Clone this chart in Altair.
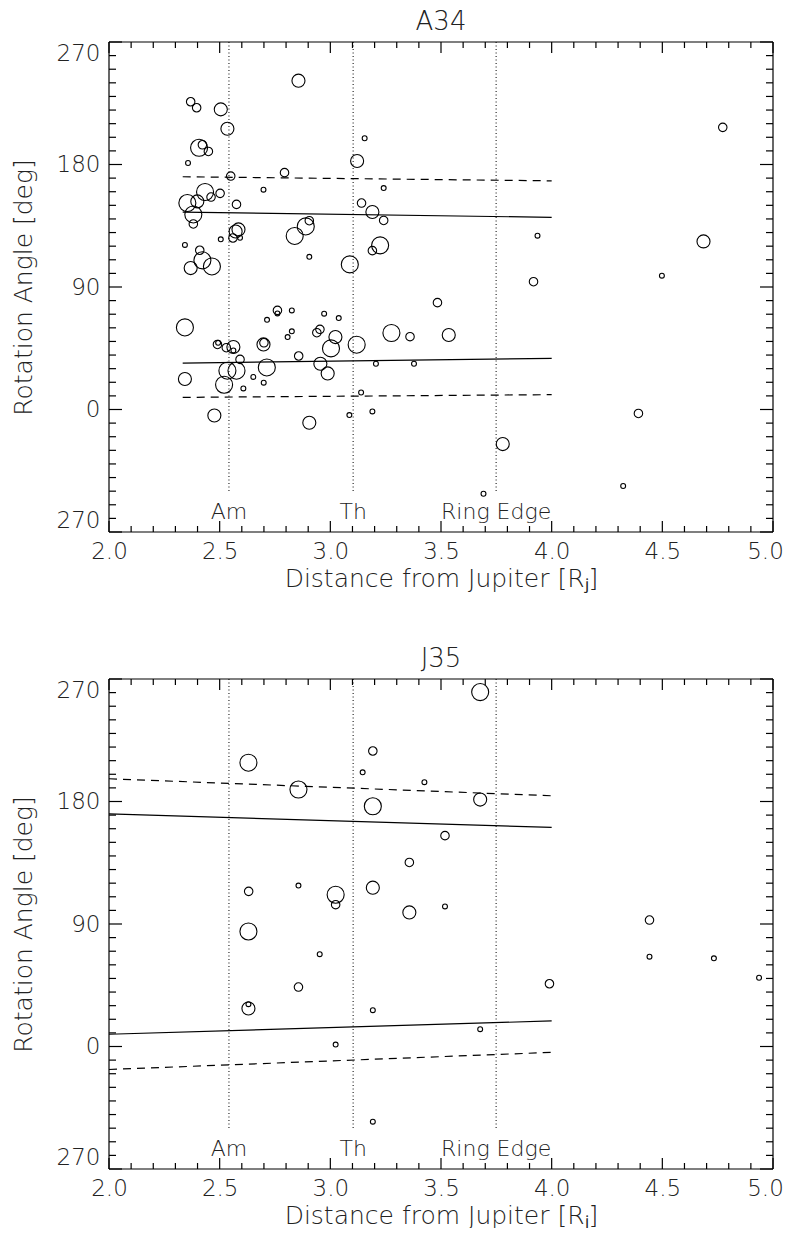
import altair as alt
import pandas as pd

FONT = "DejaVu Sans"

# ---------------- A34 data ----------------
a34_x = [2.856, 2.369, 2.396, 2.505, 2.535, 2.407, 2.422, 2.449, 2.357, 2.550,
         2.793, 2.698, 2.434, 2.461, 2.502, 2.354, 2.399, 2.576, 2.381, 2.381,
         2.585, 2.572, 2.560, 2.592, 2.505, 2.839, 2.889, 2.905, 2.905, 2.343,
         2.410, 2.422, 2.369, 2.465, 3.088, 3.155, 3.121, 3.241, 3.141, 3.190,
         3.241, 3.225, 3.190, 4.773, 4.686, 4.498, 3.918, 3.936,
         2.343, 2.343, 2.490, 2.493, 2.530, 2.562, 2.562, 2.592, 2.535, 2.576,
         2.520, 2.607, 2.652, 2.699, 2.476, 2.714, 2.761, 2.761, 2.826, 2.826,
         2.807, 2.698, 2.700, 2.713, 2.857, 2.972, 3.038, 2.939, 2.953, 3.023,
         3.003, 2.955, 2.988, 3.119, 3.276, 3.206, 3.139, 3.086, 3.190, 2.905,
         3.484, 3.360, 3.535, 3.378, 4.392, 3.779, 3.692, 4.323]
a34_y = [241.6, 226.1, 221.7, 220.5, 206.3, 192.3, 194.5, 189.6, 181.1, 171.5,
         174.0, 161.5, 159.8, 156.1, 158.8, 151.7, 152.9, 150.7, 143.3, 136.3,
         132.3, 130.8, 126.0, 126.2, 125.0, 127.5, 134.5, 138.7, 112.2, 120.9,
         117.0, 109.6, 103.9, 105.1, 106.6, 199.3, 182.6, 162.7, 151.7, 145.1,
         138.9, 120.6, 116.7, 207.3, 123.5, 98.3, 93.9, 127.7,
         60.3, 22.4, 47.8, 49.0, 45.4, 45.9, 43.4, 36.8, 28.5, 28.5,
         18.2, 15.5, 23.9, 19.7, -4.4, 65.9, 72.8, 70.6, 72.8, 57.4,
         53.2, 47.8, 49.0, 30.9, 39.3, 70.4, 67.2, 56.4, 58.9, 53.2,
         44.9, 33.6, 26.5, 47.6, 56.2, 33.6, 12.5, -4.1, -1.4, -9.7,
         78.5, 53.5, 54.7, 33.6, -2.9, -25.4, -61.9, -56.2]
a34_w = [3, 2, 2, 3, 3, 4, 2, 2, 1, 2,
         2, 1, 4, 2, 2, 4, 3, 2, 4, 2,
         3, 3, 2, 1, 1, 4, 4, 2, 1, 1,
         2, 4, 3, 4, 4, 1, 3, 1, 2, 3,
         2, 4, 2, 2, 3, 1, 2, 1,
         4, 3, 2, 1, 2, 3, 1, 2, 4, 4,
         4, 1, 1, 1, 3, 1, 2, 1, 1, 1,
         1, 3, 2, 4, 2, 1, 1, 2, 2, 3,
         4, 3, 3, 4, 4, 1, 1, 1, 1, 3,
         2, 2, 3, 1, 2, 3, 1, 1]

# fitted trends: (x start, x end) and (y start, y end)
a34_fit_x = [2.333, 4.0]
a34_solid_hi = [145.0, 141.2]
a34_dash_hi = [171.0, 168.0]
a34_solid_lo = [34.1, 37.6]
a34_dash_lo = [8.9, 10.9]

# ---------------- J35 data ----------------
j35_x = [2.630, 2.856, 3.192, 3.146, 3.425, 3.192, 3.518, 3.357, 2.631, 2.856,
         3.024, 3.024, 3.192, 3.357, 3.518, 2.630, 2.952, 2.856, 2.630, 2.630,
         3.192, 3.024, 3.192, 3.677, 3.677, 4.442, 4.442, 4.733, 4.937, 3.990,
         3.677]
j35_y = [208.5, 188.8, 217.1, 201.4, 194.2, 176.5, 154.9, 135.2, 114.0, 118.2,
         111.5, 104.2, 116.7, 98.5, 102.9, 84.5, 67.8, 43.7, 27.9, 31.1,
         26.7, 1.4, -55.2, 260.4, 181.4, 92.9, 66.0, 64.8, 50.5, 46.1,
         12.7]
j35_w = [4, 4, 2, 1, 1, 4, 2, 2, 2, 1,
         4, 2, 3, 3, 1, 4, 1, 2, 3, 1,
         1, 1, 1, 4, 3, 2, 1, 1, 1, 2,
         1]

j35_fit_x = [2.0, 4.0]
j35_solid_hi = [170.9, 161.0]
j35_dash_hi = [196.7, 184.2]
j35_solid_lo = [9.0, 18.8]
j35_dash_lo = [-16.9, -4.3]

# ---------------- reference boundaries ----------------
bound_names = ["Am", "Th", "Ring Edge"]
bound_x = [2.542, 3.103, 3.749]
bound_top = 270
bound_bottom = -61
bound_label_y = -75

# ---------------- axis ticks ----------------
X_MIN, X_MAX = 2.0, 5.0
Y_MIN, Y_MAX = -90, 270
x_major = [2.0, 2.5, 3.0, 3.5, 4.0, 4.5, 5.0]
x_minor = [round(2.0 + 0.1 * i, 1) for i in range(31)]
y_major = [-90, 0, 90, 180, 270]
y_minor = [-90 + 10 * i for i in range(37)]

W, H = 664, 490

xscale = alt.Scale(domain=[X_MIN, X_MAX], nice=False, zero=False)
yscale = alt.Scale(domain=[Y_MIN, Y_MAX], nice=False, zero=False)

common_axis = dict(ticks=False, domain=False, grid=False, labelFont=FONT, titleFont=FONT,
                   labelFontSize=23, titleFontSize=25, labelColor="#222",
                   titleColor="#222", titleFontWeight=300, labelFontWeight=300,
                   labelOverlap=False)
x_axis = alt.Axis(values=x_major, format=".1f", labelPadding=8,
                  title="Distance from Jupiter [Rⱼ]", titlePadding=3,
                  labelFlush=False,
                  labelOffset=alt.ExprRef(expr="datum.value == 5 ? -8 : 0"),
                  **common_axis)
y_axis = alt.Axis(values=y_major,
                  labelExpr="datum.value == -90 ? '270' : datum.label",
                  labelFlush=True, labelPadding=9, title="Rotation Angle [deg]",
                  titlePadding=20, **common_axis)


def X(field="x"):
    return alt.X(f"{field}:Q", scale=xscale, axis=x_axis)


def Y(field="y"):
    return alt.Y(f"{field}:Q", scale=yscale, axis=y_axis)


def panel(name, px, py, pw, fx, s_hi, d_hi, s_lo, d_lo):
    pts = pd.DataFrame({"x": px, "y": py, "w": pw})
    points = alt.Chart(pts).mark_point(shape="circle", filled=False, color="black",
                                       strokeWidth=1.1, opacity=1).encode(
        x=X(), y=Y(),
        size=alt.Size("w:N", scale=alt.Scale(type="ordinal", domain=[1, 2, 3, 4],
                                             range=[24, 72, 170, 290]),
                      legend=None))

    solid = pd.DataFrame({"x": fx + fx, "y": s_hi + s_lo, "g": ["hi", "hi", "lo", "lo"]})
    dashed = pd.DataFrame({"x": fx + fx, "y": d_hi + d_lo, "g": ["hi", "hi", "lo", "lo"]})
    solid_l = alt.Chart(solid).mark_line(color="black", strokeWidth=1.2).encode(
        x=X(), y=Y(), detail="g:N")
    dashed_l = alt.Chart(dashed).mark_line(color="black", strokeWidth=1.2,
                                           strokeDash=[8, 6]).encode(
        x=X(), y=Y(), detail="g:N")

    bdf = pd.DataFrame({"x": bound_x, "name": bound_names,
                        "top": [bound_top] * 3, "bot": [bound_bottom] * 3,
                        "ly": [bound_label_y] * 3})
    brules = alt.Chart(bdf).mark_rule(color="black", strokeWidth=1,
                                      strokeDash=[1, 2.5]).encode(
        x=X(), y=Y("top"), y2="bot:Q")
    btext = alt.Chart(bdf).mark_text(font=FONT, fontSize=22, color="#222",
                                     fontWeight=300, baseline="middle").encode(
        x=X(), y=Y("ly"), text="name:N")

    # plot frame
    fdf = pd.DataFrame({"x": [X_MIN, X_MIN, X_MIN, X_MAX],
                        "x2": [X_MAX, X_MAX, X_MIN, X_MAX],
                        "y": [Y_MIN, Y_MAX, Y_MIN, Y_MIN],
                        "y2": [Y_MIN, Y_MAX, Y_MAX, Y_MAX]})
    frame = alt.Chart(fdf).mark_rule(color="black", strokeWidth=1.2).encode(
        x=X(), x2="x2:Q", y=Y(), y2="y2:Q")

    # inward ticks on all four sides (short tick marks positioned by the scales)
    xmaj = pd.DataFrame({"x": x_major})
    xmin = pd.DataFrame({"x": [v for v in x_minor if v not in x_major]})
    ymaj = pd.DataFrame({"y": y_major})
    ymin = pd.DataFrame({"y": [v for v in y_minor if v not in y_major]})
    tk = dict(color="black", thickness=1.2, opacity=1)
    ticks = [
        alt.Chart(xmin).mark_tick(size=6, **tk).encode(x=X(), y=alt.value(3)),
        alt.Chart(xmin).mark_tick(size=6, **tk).encode(x=X(), y=alt.value(H - 3)),
        alt.Chart(xmaj).mark_tick(size=11, **tk).encode(x=X(), y=alt.value(5.5)),
        alt.Chart(xmaj).mark_tick(size=11, **tk).encode(x=X(), y=alt.value(H - 5.5)),
        alt.Chart(ymin).mark_tick(size=7, **tk).encode(y=Y(), x=alt.value(3.5)),
        alt.Chart(ymin).mark_tick(size=7, **tk).encode(y=Y(), x=alt.value(W - 3.5)),
        alt.Chart(ymaj).mark_tick(size=13, **tk).encode(y=Y(), x=alt.value(6.5)),
        alt.Chart(ymaj).mark_tick(size=13, **tk).encode(y=Y(), x=alt.value(W - 6.5)),
    ]

    return alt.layer(points, solid_l, dashed_l, brules, btext, frame, *ticks).properties(
        width=W, height=H,
        title=alt.TitleParams(name, font=FONT, fontSize=26, fontWeight=300,
                              color="#222", offset=6, anchor="middle",
                              baseline="top"))


top = panel("A34", a34_x, a34_y, a34_w, a34_fit_x, a34_solid_hi, a34_dash_hi,
            a34_solid_lo, a34_dash_lo)
bottom = panel("J35", j35_x, j35_y, j35_w, j35_fit_x, j35_solid_hi, j35_dash_hi,
               j35_solid_lo, j35_dash_lo)

chart = alt.vconcat(top, bottom, spacing=55).properties(
    padding={"left": 3, "top": 1, "right": 0, "bottom": 0},
    background="white"
).configure_view(strokeWidth=0)

chart.save("out.html", embed_options={"renderer": "svg", "actions": False})
